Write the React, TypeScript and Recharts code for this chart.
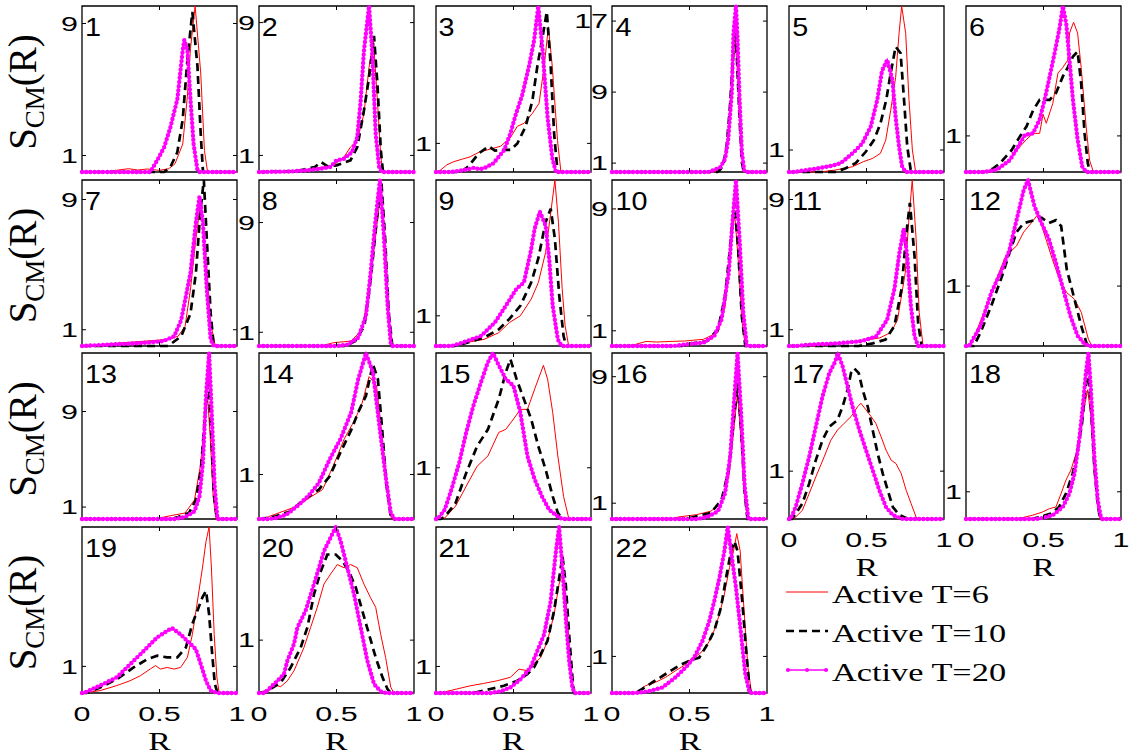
import { LineChart, Line, XAxis, YAxis, ReferenceArea } from "recharts";

type Pair = [number, number];

// S_CM(R) curves per panel: [R, value]; red = T=6, black = T=10, magenta = T=20
const p1Red: Pair[] = [[0,0],[0.15,0],[0.22,0.1],[0.3,0.2],[0.36,0.12],[0.42,0.18],[0.5,0.1],[0.56,0.2],[0.6,0.5],[0.65,1.7],[0.68,4.6],[0.7,7.5],[0.73,10.06],[0.766,6.0],[0.79,1.3],[0.81,0],[1,0]];
const p1Black: Pair[] = [[0,0],[0.53,0],[0.57,0.3],[0.615,1.2],[0.65,3.2],[0.68,6.8],[0.712,9.7],[0.745,6.4],[0.766,2.3],[0.78,0.1],[0.79,0],[1,0]];
const p1Mag: Pair[] = [[0,0],[0.44,0],[0.485,0.7],[0.53,1.5],[0.57,2.7],[0.615,4.4],[0.65,7.4],[0.66,8.0],[0.68,7.4],[0.7,4.4],[0.72,1.7],[0.745,0.1],[0.76,0],[1,0]];

const p2Red: Pair[] = [[0,0],[0.2,0.05],[0.35,0.2],[0.48,0.4],[0.548,0.9],[0.59,1.5],[0.634,1.9],[0.677,3.5],[0.71,6.3],[0.738,8.0],[0.764,4.3],[0.786,0.9],[0.8,0],[1,0]];
const p2Black: Pair[] = [[0,0],[0.25,0.05],[0.31,0.2],[0.36,0.3],[0.4,0.6],[0.44,0.35],[0.5,0.4],[0.59,0.7],[0.634,1.5],[0.677,3.7],[0.71,5.7],[0.742,8.2],[0.764,5.3],[0.786,1.3],[0.8,0],[1,0]];
const p2Mag: Pair[] = [[0,0],[0.2,0.03],[0.31,0.1],[0.4,0.2],[0.46,0.3],[0.5,0.7],[0.548,0.8],[0.6,1.2],[0.634,2.1],[0.656,4.3],[0.677,7.3],[0.71,10.0],[0.73,7.3],[0.753,2.3],[0.775,0.3],[0.79,0],[1,0]];

const p3Red: Pair[] = [[0,0],[0.03,0.07],[0.07,0.25],[0.114,0.36],[0.17,0.45],[0.22,0.53],[0.28,0.7],[0.33,0.77],[0.417,0.9],[0.48,1.2],[0.525,1.6],[0.568,1.7],[0.622,2.05],[0.665,2.4],[0.698,3.7],[0.725,5.07],[0.75,3.7],[0.784,1.1],[0.806,0],[1,0]];
const p3Black: Pair[] = [[0,0],[0.16,0],[0.21,0.2],[0.276,0.65],[0.34,0.9],[0.38,0.75],[0.417,0.77],[0.48,0.77],[0.525,1.0],[0.579,1.6],[0.622,2.5],[0.654,3.7],[0.687,4.7],[0.715,5.6],[0.74,3.7],[0.762,1.35],[0.784,0],[1,0]];
const p3Mag: Pair[] = [[0,0],[0.1,0],[0.16,0.05],[0.21,0.1],[0.244,0.15],[0.28,0.1],[0.31,0.13],[0.37,0.3],[0.44,0.77],[0.48,1.35],[0.514,2.0],[0.557,2.7],[0.6,3.7],[0.633,4.6],[0.66,5.8],[0.687,4.3],[0.72,1.9],[0.75,0.5],[0.773,0],[1,0]];

const p4Red: Pair[] = [[0,0],[0.66,0],[0.7,0.56],[0.73,1.9],[0.75,4.5],[0.773,10.1],[0.792,15.4],[0.81,11.2],[0.827,4.5],[0.844,0.5],[0.855,0],[1,0]];
const p4Black: Pair[] = [[0,0],[0.68,0],[0.7,0.3],[0.72,0.9],[0.74,3.0],[0.76,7.1],[0.78,12.7],[0.794,15.7],[0.805,13.1],[0.823,6.0],[0.838,1.1],[0.85,0],[1,0]];
const p4Mag: Pair[] = [[0,0],[0.62,0],[0.654,0.2],[0.7,0.56],[0.73,1.5],[0.75,3.7],[0.773,9.0],[0.784,15.7],[0.8,18.7],[0.81,15.0],[0.823,8.2],[0.838,2.2],[0.853,0.2],[0.87,0],[1,0]];

const p5Red: Pair[] = [[0,0],[0.2,0],[0.3,0.09],[0.41,0.24],[0.48,0.47],[0.54,0.62],[0.59,0.85],[0.624,1.45],[0.656,2.8],[0.688,4.3],[0.71,6.3],[0.727,7.55],[0.753,6.3],[0.774,3.3],[0.796,1.0],[0.817,0],[1,0]];
const p5Black: Pair[] = [[0,0],[0.3,0],[0.366,0.17],[0.43,0.4],[0.495,0.92],[0.548,1.45],[0.59,2.2],[0.628,3.3],[0.656,4.5],[0.688,5.7],[0.72,5.4],[0.742,3.3],[0.763,1.15],[0.785,0.1],[0.8,0],[1,0]];
const p5Mag: Pair[] = [[0,0],[0.03,0],[0.086,0.06],[0.19,0.17],[0.28,0.29],[0.333,0.4],[0.41,0.85],[0.473,1.3],[0.527,2.06],[0.57,3.3],[0.6,4.6],[0.634,5.1],[0.667,4.2],[0.688,2.5],[0.71,1.15],[0.73,0.24],[0.753,0],[1,0]];

const p6Red: Pair[] = [[0,0],[0.15,0],[0.218,0.1],[0.283,0.33],[0.347,0.7],[0.39,0.9],[0.432,1.07],[0.475,1.07],[0.497,1.6],[0.518,1.35],[0.56,1.9],[0.593,2.74],[0.625,2.9],[0.657,3.1],[0.668,3.85],[0.694,4.15],[0.72,3.85],[0.743,2.9],[0.775,1.26],[0.797,0.33],[0.822,0],[1,0]];
const p6Black: Pair[] = [[0,0],[0.12,0],[0.176,0.1],[0.218,0.24],[0.293,0.6],[0.347,0.98],[0.39,1.26],[0.432,1.7],[0.475,2.0],[0.54,2.0],[0.582,2.2],[0.625,2.65],[0.657,2.9],[0.69,3.2],[0.72,3.34],[0.743,2.46],[0.765,1.07],[0.786,0.24],[0.8,0],[1,0]];
const p6Mag: Pair[] = [[0,0],[0.12,0],[0.197,0.06],[0.283,0.33],[0.336,0.7],[0.38,1.03],[0.432,1.07],[0.475,1.45],[0.507,2.0],[0.54,2.65],[0.572,3.3],[0.604,4.0],[0.625,4.6],[0.647,4.1],[0.668,3.1],[0.69,2.0],[0.72,0.9],[0.75,0.15],[0.775,0],[1,0]];

const p7Red: Pair[] = [[0,0],[0.08,0],[0.13,0.1],[0.27,0.2],[0.41,0.3],[0.55,0.4],[0.62,0.6],[0.665,1.2],[0.7,3.5],[0.735,6.6],[0.767,8.9],[0.8,5.5],[0.83,1.4],[0.86,0],[1,0]];
const p7Black: Pair[] = [[0,0],[0.55,0],[0.57,0.1],[0.64,0.6],[0.7,2.0],[0.735,4.5],[0.763,8.2],[0.786,10.2],[0.805,6.6],[0.83,2.0],[0.85,0],[1,0]];
const p7Mag: Pair[] = [[0,0],[0.2,0.1],[0.316,0.15],[0.41,0.2],[0.525,0.3],[0.595,0.6],[0.64,1.6],[0.7,4.5],[0.735,7.6],[0.758,9.2],[0.78,7.6],[0.805,3.5],[0.83,0.4],[0.85,0],[1,0]];

const p8Red: Pair[] = [[0,0],[0.4,0],[0.48,0.24],[0.595,0.36],[0.665,1.2],[0.71,4.1],[0.75,7.8],[0.785,11.2],[0.82,6.5],[0.84,1.7],[0.865,0],[1,0]];
const p8Black: Pair[] = [[0,0],[0.55,0],[0.62,0.35],[0.68,1.45],[0.72,4.8],[0.76,9.2],[0.79,11.9],[0.814,7.8],[0.837,2.4],[0.86,0],[1,0]];
const p8Mag: Pair[] = [[0,0],[0.5,0],[0.57,0.1],[0.64,0.6],[0.69,2.2],[0.72,5.3],[0.75,9.0],[0.78,12.1],[0.805,8.2],[0.83,2.9],[0.85,0.2],[0.86,0],[1,0]];

const p9Red: Pair[] = [[0,0],[0.1,0],[0.17,0.09],[0.31,0.22],[0.405,0.44],[0.474,0.78],[0.544,1.0],[0.614,1.55],[0.66,2.1],[0.707,3.1],[0.74,4.4],[0.767,5.5],[0.79,4.1],[0.814,1.9],[0.833,0.67],[0.856,0],[1,0]];
const p9Black: Pair[] = [[0,0],[0.12,0],[0.195,0.1],[0.31,0.28],[0.405,0.55],[0.474,0.9],[0.544,1.33],[0.614,2.1],[0.66,2.9],[0.707,4.1],[0.74,4.55],[0.767,3.55],[0.795,1.67],[0.823,0.33],[0.84,0],[1,0]];
const p9Mag: Pair[] = [[0,0],[0.1,0],[0.17,0.11],[0.29,0.33],[0.38,0.78],[0.45,1.33],[0.52,1.9],[0.567,2.1],[0.614,3.2],[0.637,3.9],[0.67,4.45],[0.707,4.0],[0.73,2.9],[0.753,1.33],[0.786,0.22],[0.81,0],[1,0]];

const p10Red: Pair[] = [[0,0],[0.1,0],[0.15,0.1],[0.22,0.3],[0.29,0.26],[0.38,0.3],[0.47,0.33],[0.59,0.44],[0.684,0.9],[0.73,2.6],[0.763,5.9],[0.79,8.9],[0.814,5.7],[0.837,1.75],[0.86,0],[1,0]];
const p10Black: Pair[] = [[0,0],[0.45,0],[0.52,0.18],[0.614,0.33],[0.684,1.1],[0.73,3.3],[0.763,6.6],[0.79,9.4],[0.814,6.4],[0.837,2.0],[0.86,0],[1,0]];
const p10Mag: Pair[] = [[0,0],[0.4,0],[0.47,0.1],[0.59,0.22],[0.66,0.66],[0.707,1.75],[0.753,4.8],[0.777,8.1],[0.8,10.9],[0.823,7.0],[0.847,2.2],[0.87,0],[1,0]];

const p11Red: Pair[] = [[0,0],[0.2,0],[0.26,0.1],[0.447,0.3],[0.586,0.5],[0.656,0.82],[0.7,1.6],[0.75,4.5],[0.772,7.6],[0.795,10.2],[0.82,6.6],[0.84,2.05],[0.865,0],[1,0]];
const p11Black: Pair[] = [[0,0],[0.45,0],[0.54,0.16],[0.623,0.4],[0.68,1.23],[0.726,3.5],[0.758,7.0],[0.78,8.8],[0.81,5.5],[0.833,1.4],[0.856,0],[1,0]];
const p11Mag: Pair[] = [[0,0],[0.05,0],[0.12,0.08],[0.307,0.16],[0.47,0.3],[0.563,0.6],[0.633,1.6],[0.68,3.5],[0.712,5.7],[0.74,7.2],[0.763,5.5],[0.786,2.5],[0.81,0.6],[0.833,0],[1,0]];

const p12Red: Pair[] = [[0,0],[0.03,0],[0.046,0.11],[0.116,0.56],[0.186,1.05],[0.256,1.5],[0.326,1.67],[0.372,1.9],[0.42,2.05],[0.465,2.2],[0.51,1.83],[0.558,1.44],[0.605,1.1],[0.65,0.89],[0.7,0.78],[0.744,0.56],[0.79,0.11],[0.814,0],[1,0]];
const p12Black: Pair[] = [[0,0],[0.05,0],[0.093,0.22],[0.163,0.67],[0.233,1.17],[0.28,1.55],[0.326,1.9],[0.372,2.05],[0.442,2.1],[0.488,2.14],[0.535,2.05],[0.58,2.1],[0.614,2.0],[0.65,1.28],[0.7,0.78],[0.744,0.33],[0.777,0.05],[0.79,0],[1,0]];
const p12Mag: Pair[] = [[0,0],[0.02,0],[0.093,0.33],[0.163,0.89],[0.233,1.28],[0.28,1.6],[0.326,2.1],[0.372,2.6],[0.4,2.77],[0.442,2.33],[0.488,2.05],[0.535,1.78],[0.58,1.39],[0.628,0.94],[0.674,0.5],[0.72,0.17],[0.767,0.03],[0.8,0],[1,0]];

const p13Red: Pair[] = [[0,0],[0.47,0],[0.5,0.08],[0.572,0.28],[0.665,0.5],[0.726,1.6],[0.763,4.4],[0.79,7.8],[0.81,10.3],[0.828,6.7],[0.846,1.9],[0.865,0],[1,0]];
const p13Black: Pair[] = [[0,0],[0.58,0],[0.62,0.17],[0.69,0.5],[0.735,1.6],[0.767,4.1],[0.795,8.9],[0.815,11.85],[0.833,7.5],[0.85,2.2],[0.87,0],[1,0]];
const p13Mag: Pair[] = [[0,0],[0.6,0],[0.665,0.17],[0.726,0.64],[0.758,1.9],[0.78,4.7],[0.8,10.3],[0.82,13.9],[0.837,8.9],[0.856,2.7],[0.874,0],[1,0]];

const p14Red: Pair[] = [[0,0],[0.03,0],[0.06,0.05],[0.13,0.14],[0.247,0.29],[0.34,0.51],[0.41,0.66],[0.48,1.2],[0.55,1.8],[0.62,2.24],[0.665,2.6],[0.71,3.2],[0.758,3.0],[0.79,2.0],[0.82,0.89],[0.85,0.06],[0.86,0],[1,0]];
const p14Black: Pair[] = [[0,0],[0.014,0],[0.107,0.06],[0.2,0.17],[0.293,0.44],[0.386,0.66],[0.456,0.96],[0.526,1.5],[0.595,2.0],[0.64,2.4],[0.69,2.77],[0.735,3.48],[0.767,3.14],[0.795,2.0],[0.823,0.74],[0.85,0.06],[0.86,0],[1,0]];
const p14Mag: Pair[] = [[0,0],[0.06,0],[0.107,0.02],[0.177,0.1],[0.247,0.29],[0.316,0.51],[0.386,0.81],[0.456,1.34],[0.526,1.8],[0.595,2.4],[0.64,3.14],[0.69,3.73],[0.735,3.3],[0.78,2.0],[0.82,0.89],[0.85,0.14],[0.874,0],[1,0]];

const p15Red: Pair[] = [[0,0],[0.03,0],[0.056,0.02],[0.126,0.25],[0.195,0.64],[0.265,1.03],[0.335,1.23],[0.405,1.69],[0.45,1.75],[0.5,1.95],[0.544,2.14],[0.59,2.14],[0.637,2.54],[0.693,3.0],[0.72,2.73],[0.753,2.08],[0.786,1.23],[0.823,0.44],[0.856,0.02],[0.87,0],[1,0]];
const p15Black: Pair[] = [[0,0],[0.03,0],[0.056,0.04],[0.126,0.31],[0.195,0.9],[0.265,1.42],[0.335,1.75],[0.405,2.34],[0.45,2.86],[0.48,3.12],[0.52,2.73],[0.567,2.34],[0.614,1.95],[0.66,1.42],[0.707,0.97],[0.753,0.44],[0.786,0.12],[0.814,0],[1,0]];
const p15Mag: Pair[] = [[0,0],[0.01,0],[0.056,0.18],[0.1,0.58],[0.15,1.1],[0.195,1.69],[0.24,2.2],[0.29,2.67],[0.335,3.06],[0.367,3.24],[0.405,3.0],[0.45,2.73],[0.5,2.6],[0.544,2.08],[0.59,1.23],[0.637,0.77],[0.684,0.44],[0.73,0.18],[0.8,0.02],[0.82,0],[1,0]];

const p16Red: Pair[] = [[0,0],[0.38,0],[0.43,0.13],[0.544,0.27],[0.637,0.49],[0.707,1.0],[0.753,2.7],[0.786,5.65],[0.81,8.0],[0.833,5.0],[0.856,1.43],[0.874,0],[1,0]];
const p16Black: Pair[] = [[0,0],[0.48,0],[0.544,0.17],[0.637,0.38],[0.707,1.22],[0.753,3.1],[0.786,6.3],[0.81,8.6],[0.833,5.65],[0.856,1.65],[0.874,0],[1,0]];
const p16Mag: Pair[] = [[0,0],[0.55,0],[0.614,0.13],[0.684,0.49],[0.73,1.65],[0.763,4.0],[0.79,7.8],[0.81,10.5],[0.833,6.7],[0.856,2.07],[0.88,0],[1,0]];

const p17Red: Pair[] = [[0,0],[0.03,0],[0.043,0.04],[0.086,0.18],[0.13,0.53],[0.173,0.88],[0.227,1.3],[0.27,1.65],[0.313,1.86],[0.356,2.0],[0.4,2.14],[0.443,2.35],[0.464,2.42],[0.497,2.28],[0.53,2.14],[0.56,2.0],[0.594,1.72],[0.626,1.44],[0.659,1.23],[0.69,1.16],[0.724,0.95],[0.756,0.6],[0.788,0.32],[0.82,0.04],[0.83,0],[1,0]];
const p17Black: Pair[] = [[0,0],[0.02,0],[0.043,0.11],[0.086,0.32],[0.13,0.74],[0.173,1.23],[0.216,1.65],[0.26,1.93],[0.313,2.07],[0.346,2.35],[0.378,2.7],[0.4,3.05],[0.42,3.15],[0.45,3.05],[0.475,2.7],[0.508,2.35],[0.54,1.86],[0.572,1.37],[0.605,0.95],[0.637,0.6],[0.67,0.25],[0.713,0.08],[0.756,0.02],[0.77,0],[1,0]];
const p17Mag: Pair[] = [[0,0],[0.01,0],[0.043,0.25],[0.086,0.74],[0.13,1.3],[0.173,1.93],[0.216,2.56],[0.26,3.05],[0.298,3.29],[0.315,3.47],[0.346,3.19],[0.378,2.77],[0.41,2.35],[0.454,1.86],[0.497,1.44],[0.54,1.02],[0.583,0.6],[0.626,0.25],[0.67,0.08],[0.734,0],[1,0]];

const p18Red: Pair[] = [[0,0],[0.33,0],[0.366,0.05],[0.43,0.14],[0.495,0.26],[0.538,0.38],[0.58,0.44],[0.613,0.93],[0.645,1.43],[0.677,1.8],[0.71,2.4],[0.742,3.27],[0.763,4.1],[0.785,4.75],[0.806,3.76],[0.828,1.67],[0.85,0.44],[0.865,0],[1,0]];
const p18Black: Pair[] = [[0,0],[0.42,0],[0.473,0.07],[0.548,0.2],[0.6,0.44],[0.645,0.93],[0.688,1.67],[0.72,2.5],[0.748,3.5],[0.77,4.75],[0.788,5.5],[0.806,4.1],[0.828,1.9],[0.85,0.57],[0.865,0],[1,0]];
const p18Mag: Pair[] = [[0,0],[0.45,0],[0.495,0.04],[0.56,0.14],[0.624,0.44],[0.667,0.93],[0.7,1.67],[0.73,2.9],[0.753,4.1],[0.774,5.4],[0.79,6.1],[0.806,4.75],[0.828,2.3],[0.85,0.69],[0.87,0.07],[0.88,0],[1,0]];

const p19Red: Pair[] = [[0,0],[0.01,0],[0.117,0.09],[0.225,0.28],[0.31,0.46],[0.377,0.65],[0.44,0.9],[0.474,1.03],[0.506,0.9],[0.55,0.96],[0.593,0.9],[0.636,0.96],[0.68,1.34],[0.712,2.2],[0.745,3.46],[0.777,4.7],[0.8,5.7],[0.82,6.24],[0.835,4.7],[0.853,2.2],[0.87,0.6],[0.885,0],[1,0]];
const p19Black: Pair[] = [[0,0],[0.03,0],[0.117,0.21],[0.225,0.52],[0.333,0.96],[0.42,1.27],[0.485,1.4],[0.55,1.34],[0.615,1.34],[0.67,1.71],[0.712,2.6],[0.745,3.1],[0.777,3.6],[0.8,3.84],[0.82,2.96],[0.838,1.6],[0.857,0.34],[0.874,0],[1,0]];
const p19Mag: Pair[] = [[0,0],[0.01,0],[0.117,0.28],[0.225,0.59],[0.333,1.21],[0.42,1.71],[0.485,2.09],[0.55,2.34],[0.582,2.44],[0.636,2.2],[0.69,1.9],[0.734,1.65],[0.766,1.09],[0.8,0.46],[0.83,0.09],[0.874,0],[1,0]];

const p20Red: Pair[] = [[0,0],[0.05,0],[0.1,0.15],[0.14,0.12],[0.183,0.23],[0.226,0.42],[0.29,0.86],[0.333,1.24],[0.376,1.62],[0.419,2.06],[0.462,2.25],[0.505,2.43],[0.548,2.37],[0.591,2.43],[0.634,2.37],[0.677,2.06],[0.72,1.8],[0.753,1.62],[0.785,1.11],[0.817,0.67],[0.85,0.11],[0.87,0],[1,0]];
const p20Black: Pair[] = [[0,0],[0.05,0.03],[0.14,0.2],[0.204,0.48],[0.269,0.86],[0.312,1.24],[0.355,1.87],[0.398,2.3],[0.441,2.62],[0.495,2.62],[0.538,2.5],[0.58,2.3],[0.624,2.0],[0.667,1.55],[0.71,1.11],[0.753,0.67],[0.796,0.3],[0.828,0.08],[0.85,0],[1,0]];
const p20Mag: Pair[] = [[0,0],[0.036,0],[0.119,0.23],[0.161,0.36],[0.183,0.61],[0.226,0.93],[0.248,1.24],[0.3,1.55],[0.355,2.06],[0.42,2.69],[0.495,3.14],[0.527,2.87],[0.57,2.37],[0.613,1.87],[0.656,1.24],[0.699,0.61],[0.742,0.17],[0.785,0.03],[0.82,0],[1,0]];

const p21Red: Pair[] = [[0,0],[0.03,0],[0.048,0.03],[0.134,0.15],[0.22,0.27],[0.307,0.36],[0.394,0.46],[0.48,0.59],[0.535,0.9],[0.589,0.84],[0.632,1.09],[0.676,1.34],[0.719,1.96],[0.762,2.96],[0.794,4.1],[0.816,4.46],[0.837,3.7],[0.859,1.84],[0.88,0.4],[0.895,0],[1,0]];
const p21Black: Pair[] = [[0,0],[0.24,0],[0.26,0.03],[0.35,0.15],[0.438,0.27],[0.525,0.46],[0.589,0.71],[0.632,0.96],[0.676,1.46],[0.719,1.96],[0.762,3.1],[0.794,4.3],[0.816,5.15],[0.837,4.1],[0.859,2.2],[0.88,0.6],[0.89,0],[1,0]];
const p21Mag: Pair[] = [[0,0],[0.35,0],[0.416,0.06],[0.48,0.21],[0.546,0.52],[0.61,0.96],[0.654,1.59],[0.697,2.2],[0.74,3.46],[0.773,5.3],[0.794,6.25],[0.816,4.7],[0.837,2.84],[0.859,1.21],[0.88,0.2],[0.895,0],[1,0]];

const p22Red: Pair[] = [[0,0],[0.15,0],[0.173,0.06],[0.216,0.2],[0.28,0.29],[0.346,0.43],[0.41,0.61],[0.465,0.75],[0.52,0.97],[0.563,1.06],[0.606,1.25],[0.65,1.6],[0.693,2.15],[0.725,2.7],[0.758,3.43],[0.784,3.88],[0.805,4.36],[0.827,3.88],[0.855,2.06],[0.877,0.7],[0.9,0],[1,0]];
const p22Black: Pair[] = [[0,0],[0.15,0],[0.195,0.11],[0.26,0.29],[0.346,0.52],[0.433,0.75],[0.498,0.88],[0.563,0.97],[0.617,1.34],[0.66,1.7],[0.703,2.34],[0.736,3.15],[0.768,3.88],[0.79,4.15],[0.81,3.88],[0.84,2.52],[0.866,1.15],[0.887,0.15],[0.895,0],[1,0]];
const p22Mag: Pair[] = [[0,0],[0.15,0],[0.238,0.05],[0.325,0.15],[0.41,0.43],[0.476,0.7],[0.53,0.97],[0.584,1.43],[0.628,1.97],[0.66,2.52],[0.693,3.15],[0.725,3.88],[0.747,4.54],[0.768,3.88],[0.8,2.88],[0.833,1.6],[0.86,0.52],[0.887,0.02],[0.9,0],[1,0]];

const panels = [
  [p1Red, p1Black, p1Mag], [p2Red, p2Black, p2Mag], [p3Red, p3Black, p3Mag],
  [p4Red, p4Black, p4Mag], [p5Red, p5Black, p5Mag], [p6Red, p6Black, p6Mag],
  [p7Red, p7Black, p7Mag], [p8Red, p8Black, p8Mag], [p9Red, p9Black, p9Mag],
  [p10Red, p10Black, p10Mag], [p11Red, p11Black, p11Mag], [p12Red, p12Black, p12Mag],
  [p13Red, p13Black, p13Mag], [p14Red, p14Black, p14Mag], [p15Red, p15Black, p15Mag],
  [p16Red, p16Black, p16Mag], [p17Red, p17Black, p17Mag], [p18Red, p18Black, p18Mag],
  [p19Red, p19Black, p19Mag], [p20Red, p20Black, p20Mag], [p21Red, p21Black, p21Mag],
  [p22Red, p22Black, p22Mag],
];

const xTicks = [0, 0.5, 1];
const yTickValues = [1, 9, 17];
const seriesNames = ["Active T=6", "Active T=10", "Active T=20"];

// layout
const COL_LEFT = [82, 258.8, 435.6, 612.4, 789.2, 966];
const ROW_TOP = [6, 179.5, 353, 526.5];
const PW = 155;
const PH = 166;
const AX_W = 40;
const PAD_T = 8;
const PAD_R = 8;
const AX_H = 62;

const SANS = "'Liberation Sans', Arial, sans-serif";
const SERIF = "'Liberation Serif', 'Times New Roman', serif";
const RED = "#ff0000";
const MAG = "#ff00ff";

const toPts = (a: Pair[]) => a.map(([x, y]) => ({ x, y }));

function YTick(props: any) {
  const { y, payload } = props;
  return (
    <g>
      <line x1={AX_W} x2={AX_W + 4} y1={y} y2={y} stroke="#000" strokeWidth={1} />
      <line x1={AX_W + PW} x2={AX_W + PW - 4} y1={y} y2={y} stroke="#000" strokeWidth={1} />
      <text
        transform={`translate(${AX_W - 4},${y}) scale(1.45,1)`}
        textAnchor="end"
        dominantBaseline="central"
        fontFamily={SANS}
        fontSize={21}
        fill="#000"
      >
        {payload.value}
      </text>
    </g>
  );
}

function makeXTick(show: boolean) {
  return function XTick(props: any) {
    const { x, payload } = props;
    const bottom = PAD_T + PH;
    return (
      <g>
        {payload.value === 0.5 && (
          <>
            <line x1={x} x2={x} y1={bottom} y2={bottom - 4} stroke="#000" strokeWidth={1} />
            <line x1={x} x2={x} y1={PAD_T} y2={PAD_T + 4} stroke="#000" strokeWidth={1} />
          </>
        )}
        {show && (
          <text
            transform={`translate(${x},${bottom + 28}) scale(1.45,1)`}
            textAnchor="middle"
            fontFamily={SANS}
            fontSize={21}
            fill="#000"
          >
            {payload.value}
          </text>
        )}
      </g>
    );
  };
}

function Panel({ idx }: { idx: number }) {
  const [red, black, mag] = panels[idx];
  const row = Math.floor(idx / 6);
  const col = idx % 6;
  const ymax = Math.max(...[...red, ...black, ...mag].map((p) => p[1]));
  const yTicks = yTickValues.filter((t) => t < ymax);
  const showX = idx >= 16;
  return (
    <div style={{ position: "absolute", left: COL_LEFT[col] - AX_W, top: ROW_TOP[row] - PAD_T }}>
      <LineChart
        width={AX_W + PW + PAD_R}
        height={PAD_T + PH + AX_H}
        margin={{ top: PAD_T, right: PAD_R, bottom: 0, left: 0 }}
      >
        <XAxis
          type="number"
          dataKey="x"
          domain={[0, 1]}
          ticks={xTicks}
          interval={0}
          height={AX_H}
          axisLine={false}
          tickLine={false}
          tick={makeXTick(showX)}
        />
        <YAxis
          type="number"
          domain={[0, ymax]}
          ticks={yTicks}
          interval={0}
          width={AX_W}
          axisLine={false}
          tickLine={false}
          tick={YTick}
        />
        <ReferenceArea x1={0} x2={1} y1={0} y2={ymax} fill="none" stroke="#000" strokeWidth={1.3} />
        <Line data={toPts(red)} dataKey="y" type="linear" stroke={RED} strokeWidth={1} dot={false} isAnimationActive={false} />
        <Line data={toPts(black)} dataKey="y" type="linear" stroke="#000" strokeWidth={2.7} strokeDasharray="8 5" dot={false} isAnimationActive={false} />
        <Line data={toPts(mag)} dataKey="y" type="linear" stroke={MAG} strokeWidth={1.6} dot={false} isAnimationActive={false} />
        <Line data={toPts(mag)} dataKey="y" type="linear" stroke={MAG} strokeWidth={4.4} strokeDasharray="0 4.2" strokeLinecap="round" dot={false} isAnimationActive={false} />
      </LineChart>
    </div>
  );
}

function Overlay() {
  const legendY = [594, 633, 672];
  return (
    <svg width={1131} height={756} style={{ position: "absolute", left: 0, top: 0, pointerEvents: "none" }}>
      {panels.map((_, i) => {
        const row = Math.floor(i / 6);
        const col = i % 6;
        return (
          <text
            key={i}
            transform={`translate(${COL_LEFT[col] + 3},${ROW_TOP[row] + 30}) scale(1.15,1)`}
            fontFamily={SANS}
            fontSize={25}
            fill="#000"
          >
            {i + 1}
          </text>
        );
      })}
      {ROW_TOP.map((top, r) => (
        <text
          key={r}
          transform={`translate(36,${top + PH / 2 + 3}) rotate(-90)`}
          textAnchor="middle"
          fontFamily={SERIF}
          fontSize={39}
          fill="#000"
        >
          S<tspan fontSize={27} dy={8}>CM</tspan>
          <tspan dy={-8}>(R)</tspan>
        </text>
      ))}
      {panels.map((_, i) => {
        if (i < 16) return null;
        const row = Math.floor(i / 6);
        const col = i % 6;
        return (
          <text
            key={"r" + i}
            transform={`translate(${COL_LEFT[col] + PW / 2},${ROW_TOP[row] + PH + 57}) scale(1.3,1)`}
            textAnchor="middle"
            fontFamily={SERIF}
            fontSize={26}
            fill="#000"
          >
            R
          </text>
        );
      })}
      {/* legend */}
      <line x1={786} x2={828} y1={legendY[0] - 2} y2={legendY[0] - 2} stroke={RED} strokeWidth={1} />
      <line x1={786} x2={828} y1={legendY[1] - 2} y2={legendY[1] - 2} stroke="#000" strokeWidth={2.7} strokeDasharray="8 5" />
      <line x1={786} x2={828} y1={legendY[2] - 2} y2={legendY[2] - 2} stroke={MAG} strokeWidth={1.5} />
      {[788, 807, 826].map((cx) => (
        <circle key={cx} cx={cx} cy={legendY[2] - 2} r={2} fill={MAG} />
      ))}
      {seriesNames.map((name, i) => (
        <text
          key={name}
          transform={`translate(832,${legendY[i]}) scale(1.32,1)`}
          dominantBaseline="central"
          fontFamily={SERIF}
          fontSize={26}
          fill="#000"
        >
          {name}
        </text>
      ))}
    </svg>
  );
}

export default function App() {
  return (
    <div style={{ position: "absolute", left: 0, top: 0, width: 1131, height: 756, background: "#fff" }}>
      {panels.map((_, i) => (
        <Panel key={i} idx={i} />
      ))}
      <Overlay />
    </div>
  );
}
